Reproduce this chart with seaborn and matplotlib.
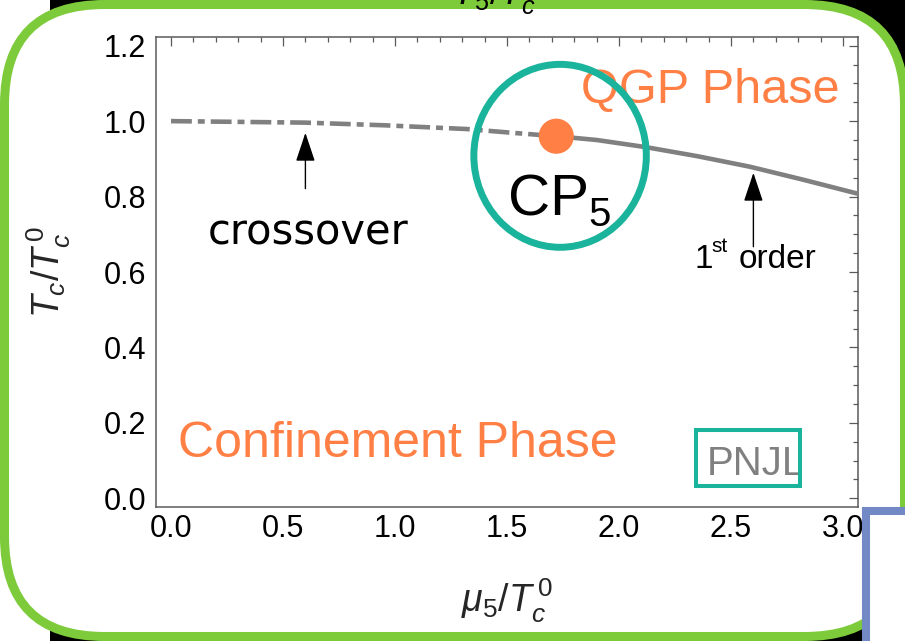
import matplotlib
matplotlib.use("Agg")
import matplotlib.pyplot as plt
import seaborn as sns
import pandas as pd
from matplotlib.patches import FancyBboxPatch, Rectangle, Ellipse
from matplotlib import transforms
from matplotlib.transforms import Bbox, TransformedBbox
from matplotlib.ticker import MultipleLocator, FixedLocator

# ---------------- data ----------------
mu_crossover = [0.0, 0.3, 0.6, 0.95, 1.32, 1.545, 1.72]
tc_crossover = [1.000, 0.998, 0.996, 0.989, 0.979, 0.968, 0.960]
mu_first_order = [1.72, 1.90, 2.12, 2.35, 2.585, 2.82, 3.07]
tc_first_order = [0.960, 0.950, 0.931, 0.907, 0.879, 0.845, 0.807]
cp_mu = [1.72]
cp_tc = [0.960]
x_ticks = [0.0, 0.5, 1.0, 1.5, 2.0, 2.5, 3.0]
y_ticks = [0.0, 0.2, 0.4, 0.6, 0.8, 1.0, 1.2]
x_tick_labels = ["0.0", "0.5", "1.0", "1.5", "2.0", "2.5", "3.0"]
y_tick_labels = ["0.0", "0.2", "0.4", "0.6", "0.8", "1.0", "1.2"]

cross_df = pd.DataFrame({"mu": mu_crossover, "tc": tc_crossover})
first_df = pd.DataFrame({"mu": mu_first_order, "tc": tc_first_order})
cp_df = pd.DataFrame({"mu": cp_mu, "tc": cp_tc})

# ---------------- style ----------------
W, H = 905, 641
sns.set_style("white")
plt.rcParams.update({
    "font.family": ["Liberation Sans", "DejaVu Sans"],
    "mathtext.fontset": "custom",
    "mathtext.rm": "Liberation Sans",
    "mathtext.it": "Liberation Sans:italic",
    "mathtext.bf": "Liberation Sans:bold",
    "lines.scale_dashes": False,
})

ORANGE = "#FF7F45"
TEAL = "#1AB39B"
GREEN = "#7DCB3A"
BLUE = "#7389C6"
GRAY_LINE = "#808080"
SPINE = "#5a5a5a"

fig = plt.figure(figsize=(W / 100, H / 100), dpi=100)
fig.patch.set_facecolor("white")
px = transforms.Affine2D().scale(1 / W, 1 / H) + fig.transFigure

# background decorations (slide frame)
fig.add_artist(Rectangle((50, 0), W - 50, H, transform=px, facecolor="black",
                         edgecolor="none", zorder=-3))
fig.add_artist(FancyBboxPatch((4.5, H - 636.5), 904.5 - 4.5, 636.5 - 4.5,
                              boxstyle="round,pad=0,rounding_size=100",
                              transform=px, facecolor="white", edgecolor=GREEN,
                              lw=6.5, zorder=-2))
fig.add_artist(Rectangle((866, -20), 200, (H - 511) + 20, transform=px,
                         facecolor="white", edgecolor=BLUE, lw=5.8, zorder=10))

# clipped title of a panel above
fig.text(497 / W, (H - 5) / H, r"$T_5/T_c^{\,0}$", fontsize=26, ha="center",
         va="baseline", color="black")

# ---------------- axes ----------------
ax = fig.add_axes([156 / W, (H - 507) / H, 702 / W, 470 / H])
ax.set_facecolor("none")

sns.lineplot(data=cross_df, x="mu", y="tc", ax=ax, color=GRAY_LINE, lw=3.3,
             estimator=None, sort=False, solid_capstyle="butt",
             dash_capstyle="butt", zorder=3)
ax.lines[-1].set_dashes((15, 4.3, 5, 4.3))
sns.lineplot(data=first_df, x="mu", y="tc", ax=ax, color=GRAY_LINE, lw=3.3,
             estimator=None, sort=False, zorder=3)
sns.scatterplot(data=cp_df, x="mu", y="tc", ax=ax, color=ORANGE, s=640,
                edgecolor="none", zorder=5)

ax.set_xlim(-0.067, 3.067)
ax.set_ylim(-0.023, 1.223)

ax.xaxis.set_major_locator(FixedLocator(x_ticks))
ax.yaxis.set_major_locator(FixedLocator(y_ticks))
ax.set_xticklabels(x_tick_labels)
ax.set_yticklabels(y_tick_labels)
ax.xaxis.set_minor_locator(MultipleLocator(0.1))
ax.yaxis.set_minor_locator(MultipleLocator(0.05))
ax.tick_params(which="both", direction="in", top=True, right=True,
               color=SPINE, width=0.9)
ax.tick_params(which="major", length=6.5, labelsize=22, labelcolor="black")
ax.tick_params(which="minor", length=3.6)
ax.tick_params(axis="y", which="major", pad=7)
ax.tick_params(axis="x", which="major", pad=5)
for s in ax.spines.values():
    s.set_color(SPINE)
    s.set_linewidth(1.1)

ax.set_xlabel(r"$\mu_5/T_c^{\,0}$", fontsize=27, labelpad=24)
ax.set_ylabel(r"$T_c/T_c^{\,0}$", fontsize=27, labelpad=22)

# ---------------- annotations ----------------
ax.add_patch(Ellipse((1.737, 0.908), 0.77, 0.485, facecolor="none",
                     edgecolor=TEAL, lw=5, zorder=6))
ax.text(1.504, 0.751, "CP", fontsize=42, color="black", ha="left",
        va="baseline", zorder=7)
ax.text(1.862, 0.722, "5", fontsize=29, color="black", ha="left",
        va="baseline", zorder=7)

ax.text(2.987, 1.049, "QGP Phase", fontsize=35, color=ORANGE, ha="right",
        va="baseline", zorder=2)
ax.text(0.031, 0.110, "Confinement Phase", fontsize=36, color=ORANGE,
        ha="left", va="baseline", zorder=2)

ax.text(0.165, 0.672, "crossover", fontsize=30, color="black", ha="left",
        va="baseline", family="DejaVu Sans", zorder=7)
ax.text(2.339, 0.611, "1", fontsize=24, color="black", ha="left",
        va="baseline", zorder=7)
ax.text(2.411, 0.653, "st", fontsize=15, color="black", ha="left",
        va="baseline", zorder=7)
ax.text(2.536, 0.611, "order", fontsize=24, color="black", ha="left",
        va="baseline", zorder=7)

arrow_kw = dict(arrowstyle="-|>,head_length=18,head_width=6",
                mutation_scale=1, color="black", lw=1.0,
                shrinkA=0, shrinkB=0)
ax.annotate("", xy=(0.6, 0.969), xytext=(0.6, 0.821), arrowprops=arrow_kw,
            zorder=7)
ax.annotate("", xy=(2.60, 0.863), xytext=(2.60, 0.667), arrowprops=arrow_kw,
            zorder=7)

box = Rectangle((2.344, 0.033), 2.808 - 2.344, 0.181 - 0.033,
                facecolor="none", edgecolor=TEAL, lw=2.9, zorder=7)
ax.add_patch(box)
pnjl = ax.text(2.393, 0.062, "PNJL", fontsize=29, color="#808080", ha="left",
               va="baseline", zorder=6)
pnjl.set_clip_box(TransformedBbox(Bbox([[2.35, 0.035], [2.80, 0.18]]),
                                  ax.transData))
pnjl.set_clip_on(True)

fig.savefig("out.png", dpi=100)
